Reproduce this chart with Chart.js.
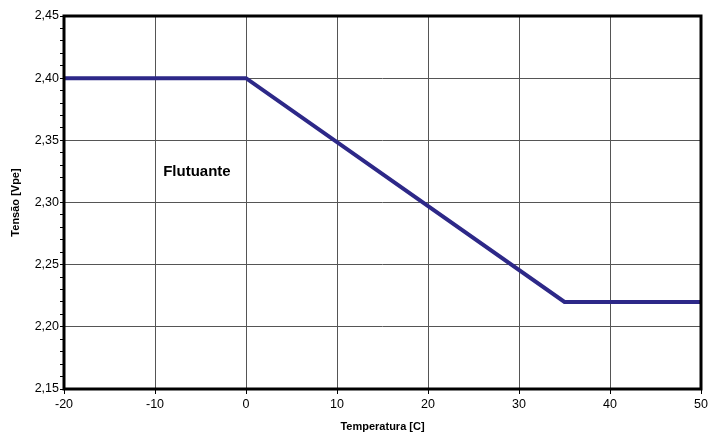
<!DOCTYPE html>
<html>
<head>
<meta charset="utf-8">
<script src="https://cdn.jsdelivr.net/npm/chart.js@4"></script>
<style>
html,body{margin:0;padding:0;background:#fff;}
#wrap{width:711px;height:439px;}
</style>
</head>
<body>
<div id="wrap"><canvas id="c" width="711" height="439"></canvas></div>
<script>
// Data
const temperatures = [-20, 0, 35, 50];
const voltages = [2.40, 2.40, 2.22, 2.22];
const xTicks = [-20, -10, 0, 10, 20, 30, 40, 50];
const yTicks = [2.15, 2.20, 2.25, 2.30, 2.35, 2.40, 2.45];
const annotationLabel = 'Flutuante';
const annotationPos = {x: -9.1, y: 2.325};
const xTitle = 'Temperatura [C]';
const yTitle = 'Tensão [Vpe]';

const FONT = '"Liberation Sans", Arial, Helvetica, sans-serif';
const isMajor = v => Math.round(v * 100) % 5 === 0;

const framePlugin = {
  id: 'frame',
  afterDraw(chart) {
    const {ctx, chartArea: a, scales} = chart;
    ctx.save();
    ctx.strokeStyle = '#000';
    ctx.lineWidth = 3;
    ctx.strokeRect(a.left, a.top, a.right - a.left, a.bottom - a.top);
    ctx.fillStyle = '#000';
    ctx.font = 'bold 15px ' + FONT;
    ctx.textAlign = 'left';
    ctx.textBaseline = 'middle';
    ctx.fillText(annotationLabel, scales.x.getPixelForValue(annotationPos.x), scales.y.getPixelForValue(annotationPos.y));
    ctx.restore();
  }
};

new Chart(document.getElementById('c'), {
  type: 'line',
  data: {
    datasets: [{
      data: temperatures.map((t, i) => ({x: t, y: voltages[i]})),
      borderColor: '#2d2888',
      borderWidth: 4,
      pointRadius: 0,
      fill: false,
      tension: 0
    }]
  },
  options: {
    responsive: false,
    animation: false,
    devicePixelRatio: 1,
    layout: {padding: {left: 0, top: 16, right: 10, bottom: 0}},
    plugins: {legend: {display: false}, tooltip: {enabled: false}},
    scales: {
      x: {
        type: 'linear',
        min: xTicks[0],
        max: xTicks[xTicks.length - 1],
        afterBuildTicks: s => { s.ticks = xTicks.map(v => ({value: v})); },
        afterFit: s => { s.height = 50; },
        ticks: {color: '#000', font: {family: FONT, size: 12.5}, padding: 3, maxRotation: 0, autoSkip: false},
        grid: {color: '#555', lineWidth: 1, tickLength: 5, tickColor: '#000', drawTicks: true},
        border: {display: false},
        title: {display: true, text: xTitle, color: '#000', font: {family: FONT, size: 11, weight: 'bold'}, padding: {top: 0, bottom: 5}}
      },
      y: {
        type: 'linear',
        min: yTicks[0],
        max: yTicks[yTicks.length - 1],
        ticks: {
          stepSize: 0.01,
          autoSkip: false,
          color: '#000',
          font: {family: FONT, size: 12.5},
          padding: 1,
          callback: v => isMajor(v) ? v.toFixed(2).replace('.', ',') : ''
        },
        afterFit: s => { s.width = 64; },
        grid: {
          color: c => (c.tick && isMajor(c.tick.value)) ? '#555' : 'rgba(0,0,0,0)',
          tickColor: '#000',
          tickLength: 4,
          lineWidth: 1
        },
        border: {display: false},
        title: {display: true, text: yTitle, color: '#000', font: {family: FONT, size: 11, weight: 'bold'}, padding: {top: 9, bottom: 0}}
      }
    }
  },
  plugins: [framePlugin]
});
</script>
</body>
</html>
